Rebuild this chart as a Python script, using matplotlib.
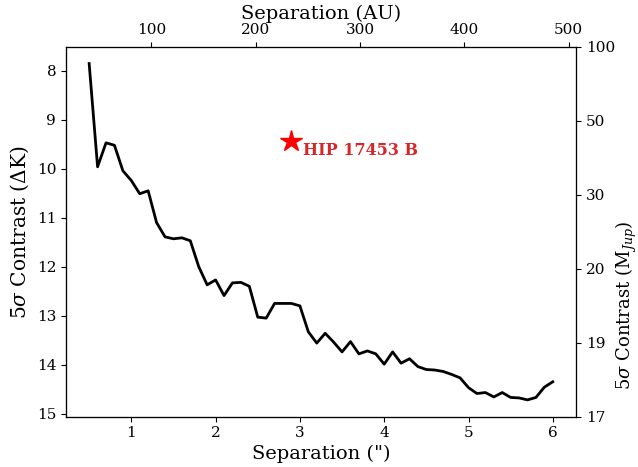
import matplotlib
matplotlib.use("Agg")
import matplotlib.pyplot as plt

plt.rcParams['font.family'] = ['DejaVu Serif']
plt.rcParams['mathtext.fontset'] = 'dejavuserif'

# Data
separation = [0.5, 0.6, 0.7, 0.8, 0.9, 1.0, 1.1, 1.2, 1.3, 1.4, 1.5, 1.6, 1.7,
              1.8, 1.9, 2.0, 2.1, 2.2, 2.3, 2.4, 2.5, 2.6, 2.7, 2.8, 2.9, 3.0,
              3.1, 3.2, 3.3, 3.4, 3.5, 3.6, 3.7, 3.8, 3.9, 4.0, 4.1, 4.2, 4.3,
              4.4, 4.5, 4.6, 4.7, 4.8, 4.9, 5.0, 5.1, 5.2, 5.3, 5.4, 5.5, 5.6,
              5.7, 5.8, 5.9, 6.0]
contrast = [7.85, 9.96, 9.47, 9.52, 10.04, 10.24, 10.51, 10.45, 11.10, 11.39,
            11.43, 11.41, 11.47, 12.00, 12.37, 12.27, 12.59, 12.33, 12.32, 12.40,
            13.03, 13.05, 12.75, 12.75, 12.75, 12.80, 13.33, 13.56, 13.36, 13.54,
            13.74, 13.53, 13.78, 13.72, 13.78, 13.99, 13.74, 13.97, 13.88, 14.04,
            14.10, 14.11, 14.14, 14.20, 14.27, 14.47, 14.59, 14.57, 14.66, 14.57,
            14.67, 14.68, 14.72, 14.67, 14.46, 14.35]
companion_sep = [2.90]
companion_contrast = [9.43]
companion_name = "HIP 17453 B"
distance_pc = 80.8
au_ticks = [100, 200, 300, 400, 500]
mass_labels = ['100', '50', '30', '20', '19', '17']

fig = plt.figure(figsize=(6.38, 4.67), dpi=100)
ax = fig.add_axes([0.1034, 0.1077, 0.7994, 0.7923])

ax.plot(separation, contrast, color='black', lw=2)
ax.invert_yaxis()
ax.plot(companion_sep, companion_contrast, marker='*', color='red',
        markersize=16, linestyle='none')
ax.annotate(companion_name, (companion_sep[0], companion_contrast[0]),
            xytext=(8, -10), textcoords='offset points',
            color='#d62728', fontweight='bold', fontsize=11.5)

ax.set_xlabel('Separation (")', fontsize=14, labelpad=3)
ax.set_ylabel(r'$5\sigma$ Contrast ($\Delta$K)', fontsize=14.5)
ax.tick_params(labelsize=11)

# top axis in AU
x0, x1 = ax.get_xlim()
axt = ax.twiny()
axt.set_xlim(x0 * distance_pc, x1 * distance_pc)
axt.set_xticks(au_ticks)
axt.set_xlabel('Separation (AU)', fontsize=14, labelpad=3)
axt.tick_params(labelsize=11)

# right axis in Jupiter masses
axr = ax.twinx()
axr.set_ylim(0, len(mass_labels) - 1)
axr.invert_yaxis()
axr.set_yticks(range(len(mass_labels)))
axr.set_yticklabels(mass_labels)
axr.set_ylabel(r'$5\sigma$ Contrast (M$_{Jup}$)', fontsize=13)
axr.yaxis.set_label_coords(1.075, 0.30)
axr.tick_params(labelsize=11)

fig.savefig('out.png', dpi=100)
